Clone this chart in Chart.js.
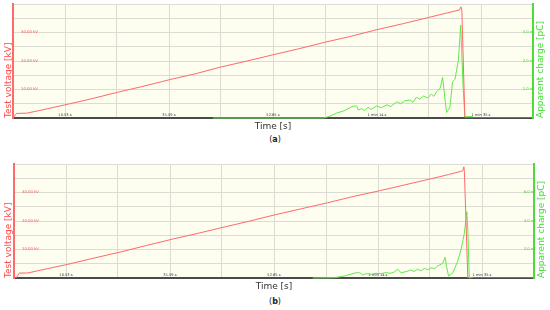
<!DOCTYPE html>
<html lang="en">
<head>
<meta charset="UTF-8">
<title>Test voltage and apparent charge</title>
<script src="https://cdn.jsdelivr.net/npm/chart.js"></script>
<style>
    body { margin: 0; width: 550px; height: 310px; background: #fff; position: relative; overflow: hidden;
        font-family: "DejaVu Sans", sans-serif; }
    .panel { position: absolute; left: 0; width: 550px; height: 134px; }
    .caption { position: absolute; left: 0; width: 550px; text-align: center; font-size: 8px; color: #222; }
</style>
</head>
<body>
<div class="panel" style="top:0px"><canvas id="chartA"></canvas></div>
<div class="caption" style="top:135px">(<b>a</b>)</div>
<div class="panel" style="top:160px"><canvas id="chartB"></canvas></div>
<div class="caption" style="top:297px">(<b>b</b>)</div>

<script>
// time axis (s): grid every 10.53 s, label every other line
const timeTicks = [0, 10.53, 21.06, 31.59, 42.12, 52.65, 63.18, 73.71, 84.24, 94.77, 105.3];
const timeTickLabels = ['', '10.53 s', '', '31.59 s', '', '52.65 s', '', '1 min 14 s', '', '1 min 35 s', ''];
const voltLabelValues = [10, 20, 30];
const chargeLabelValuesA = [1, 2, 3];
const chargeLabelValuesB = [2, 4, 6];

// (a) test voltage, kV
const voltTimeA = [0, 0.7, 2.8, 5.3, 10.5, 15.8, 21.1, 26.3, 31.6, 36.9, 42.1, 47.4, 52.7, 57.9, 63.2, 68.5, 73.7, 79.0, 84.2, 88.0, 90.4, 90.7, 90.9, 91.5, 92.0, 105.3];
const voltA = [0, 1.6, 1.7, 2.6, 4.6, 6.7, 9.0, 11.1, 13.4, 15.5, 17.9, 20.0, 22.2, 24.3, 26.6, 28.7, 31.0, 33.1, 35.3, 36.9, 37.9, 39.0, 37.6, 0.3, 0, 0];
// (a) apparent charge, nC
const chargeTimeA = [40.5, 62.8, 64.0, 65.5, 67.0, 68.9, 69.6, 69.9, 70.6, 71.2, 71.9, 72.5, 73.6, 74.6, 75.7, 76.5, 77.7, 78.5, 79.3, 80.4, 81.0, 81.7, 82.4, 83.1, 84.0, 84.7, 85.2, 85.8, 86.5, 87.0, 87.5, 87.8, 88.2, 88.5, 89.0, 89.5, 90.2, 90.66, 91.1, 91.5, 93.1];
const chargeA = [0, 0, 0.05, 0.17, 0.25, 0.42, 0.42, 0.28, 0.33, 0.26, 0.38, 0.30, 0.42, 0.36, 0.46, 0.40, 0.57, 0.50, 0.60, 0.63, 0.55, 0.73, 0.66, 0.77, 0.70, 0.84, 0.76, 0.92, 1.05, 1.43, 0.63, 0.19, 0.30, 0.40, 1.27, 1.36, 2.04, 3.26, 1.23, 0.05, 0.05];

// (b) test voltage, kV
const voltTimeB = [0, 0.4, 1.1, 2.8, 5.5, 10.9, 16.2, 21.5, 26.8, 32.0, 37.3, 42.6, 47.8, 52.9, 58.2, 63.5, 68.7, 74.0, 79.2, 84.4, 88.0, 90.9, 91.1, 91.2, 91.9, 92.4, 105.3];
const voltB = [0, 0, 1.75, 1.75, 2.8, 4.8, 7.0, 9.1, 11.4, 13.6, 15.7, 17.9, 20.0, 22.2, 24.3, 26.4, 28.6, 30.6, 32.7, 34.8, 36.3, 37.6, 39.0, 37.5, 0, 0, 0];
// (b) apparent charge, nC
const chargeTimeB = [60.5, 64.9, 66.9, 69.3, 70.0, 70.6, 71.4, 72.3, 73.3, 74.3, 75.3, 76.2, 77.0, 77.7, 78.4, 79.4, 80.4, 81.0, 81.7, 82.4, 83.1, 83.8, 84.5, 85.2, 85.8, 86.8, 87.3, 87.6, 88.0, 88.8, 89.8, 90.5, 91.2, 91.7, 91.9, 92.2, 92.9];
const chargeB = [0, 0.02, 0.14, 0.37, 0.37, 0.21, 0.30, 0.26, 0.33, 0.30, 0.38, 0.33, 0.42, 0.61, 0.37, 0.45, 0.56, 0.45, 0.62, 0.50, 0.68, 0.58, 0.72, 0.66, 0.84, 1.03, 1.45, 0.79, 0.14, 0.33, 1.14, 1.96, 3.14, 4.65, 3.37, 0, 0.05];

const RED = '#ff6a6a';
const GREEN = '#62ea4c';
const FONT = '"DejaVu Sans", sans-serif';

const toPoints = (xs, ys) => xs.map((x, i) => ({ x: x, y: ys[i] }));

// fixed axis sizes, no extra label padding around the plot
const fixSize = (w, h) => scale => {
    if (w !== null) scale.width = w;
    if (h !== null) scale.height = h;
    scale.paddingTop = 0;
    scale.paddingBottom = 0;
    scale.paddingLeft = 0;
    scale.paddingRight = 0;
};

// plot background + right axis title (reads bottom to top)
const panelDecor = {
    id: 'panelDecor',
    beforeDraw(chart) {
        const { ctx, chartArea: a } = chart;
        ctx.save();
        ctx.fillStyle = '#fdfdf0';
        ctx.fillRect(a.left, a.top, a.right - a.left, a.bottom - a.top);
        ctx.restore();
    },
    afterDraw(chart) {
        const { ctx, chartArea: a } = chart;
        ctx.save();
        ctx.translate(a.right + 8, a.bottom);
        ctx.rotate(-Math.PI / 2);
        ctx.font = '9px ' + FONT;
        ctx.fillStyle = '#44dd33';
        ctx.textBaseline = 'middle';
        ctx.fillText('Apparent charge [pC]', 0, 0);
        ctx.restore();
    }
};

function makeChart(id, voltPts, chargePts, chargeMax, chargeLabels, leftW, rightW) {
    return new Chart(document.getElementById(id), {
        type: 'line',
        data: {
            datasets: [{
                label: 'Test voltage',
                data: voltPts,
                yAxisID: 'v',
                borderColor: RED,
                borderWidth: 1,
                pointRadius: 0,
                tension: 0
            }, {
                label: 'Apparent charge',
                data: chargePts,
                yAxisID: 'q',
                borderColor: GREEN,
                borderWidth: 1,
                pointRadius: 0,
                tension: 0,
                clip: false
            }]
        },
        options: {
            responsive: true,
            maintainAspectRatio: false,
            animation: false,
            layout: { padding: { top: 4, left: 0, right: 0, bottom: 0 } },
            plugins: { legend: { display: false }, tooltip: { enabled: false } },
            scales: {
                x: {
                    type: 'linear',
                    min: 0,
                    max: 105.3,
                    afterBuildTicks(scale) { scale.ticks = timeTicks.map(v => ({ value: v })); },
                    afterFit: fixSize(null, 16),
                    grid: { color: '#dcdcd2', drawTicks: false },
                    border: { color: '#4a4a4a', width: 2 },
                    ticks: {
                        autoSkip: false,
                        maxRotation: 0,
                        mirror: true,
                        padding: 0.5,
                        color: '#333',
                        font: { family: FONT, size: 3.6 },
                        callback: (v, i) => timeTickLabels[i]
                    },
                    title: {
                        display: true,
                        text: 'Time [s]',
                        color: '#333',
                        font: { family: FONT, size: 9 },
                        padding: { top: 0, bottom: 2 }
                    }
                },
                v: {
                    position: 'left',
                    min: 0,
                    max: 40,
                    afterFit: fixSize(leftW, null),
                    grid: { color: '#dcdcd2', drawTicks: false },
                    border: { color: RED, width: 2 },
                    ticks: {
                        stepSize: 5,
                        mirror: true,
                        padding: 8,
                        color: '#ff5050',
                        font: { family: FONT, size: 3.8 },
                        callback: v => voltLabelValues.includes(v) ? v.toFixed(2) + ' kV' : ''
                    },
                    title: {
                        display: true,
                        text: 'Test voltage [kV]',
                        align: 'start',
                        color: '#ff4a4a',
                        font: { family: FONT, size: 9 },
                        padding: { top: 3, bottom: 0 }
                    }
                },
                q: {
                    position: 'right',
                    min: 0,
                    max: chargeMax,
                    afterFit: fixSize(rightW, null),
                    grid: { display: false, drawTicks: false },
                    border: { color: '#4fdc3a', width: 2 },
                    ticks: {
                        stepSize: chargeMax / 8,
                        mirror: true,
                        padding: 2,
                        color: '#44cc33',
                        font: { family: FONT, size: 3.8 },
                        callback: v => chargeLabels.includes(v) ? v.toFixed(1) + ' nC' : ''
                    }
                }
            }
        },
        plugins: [panelDecor]
    });
}

makeChart('chartA', toPoints(voltTimeA, voltA), toPoints(chargeTimeA, chargeA), 4, chargeLabelValuesA, 13, 17);
makeChart('chartB', toPoints(voltTimeB, voltB), toPoints(chargeTimeB, chargeB), 8, chargeLabelValuesB, 14, 16);
</script>
</body>
</html>
